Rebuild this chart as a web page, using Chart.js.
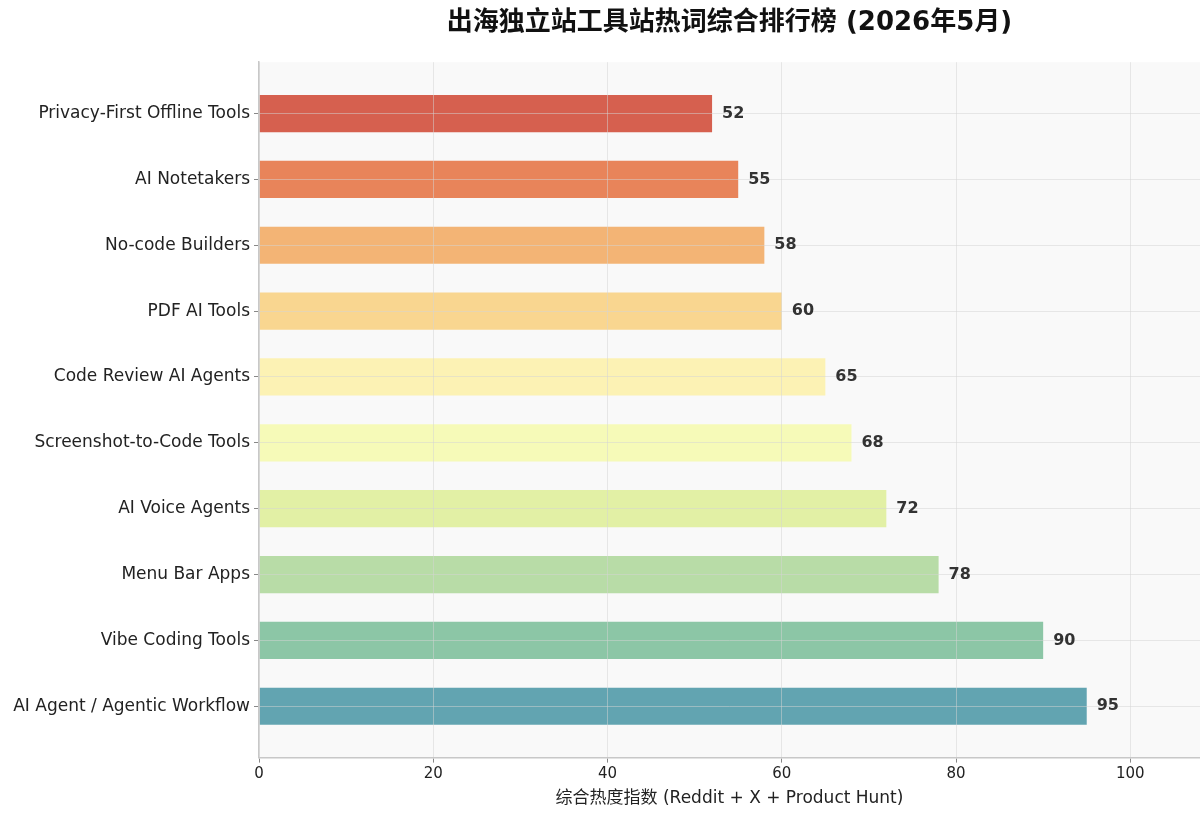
<!DOCTYPE html>
<html>
<head>
<meta charset="utf-8">
<script src="https://cdn.jsdelivr.net/npm/chart.js@4.4.1/dist/chart.umd.min.js"></script>
<style>
  html, body { margin: 0; padding: 0; background: #ffffff; }
  #wrap { width: 1200px; height: 821px; }
</style>
</head>
<body>
<div id="wrap"><canvas id="rankChart" width="1200" height="821"></canvas></div>
<script>
// 热词 + 综合热度指数 (从上到下)
const categories = [
    'Privacy-First Offline Tools',
    'AI Notetakers',
    'No-code Builders',
    'PDF AI Tools',
    'Code Review AI Agents',
    'Screenshot-to-Code Tools',
    'AI Voice Agents',
    'Menu Bar Apps',
    'Vibe Coding Tools',
    'AI Agent / Agentic Workflow'
];
const scores = [52, 55, 58, 60, 65, 68, 72, 78, 90, 95];
const xTicks = [0, 20, 40, 60, 80, 100];

const barColors = [
    '#d6604f', '#e8845a', '#f3b475', '#f9d690', '#fcf2b4',
    '#f6fab8', '#e2f0a5', '#b8dca7', '#8cc6a6', '#62a4b1'
];

const FONT = '"DejaVu Sans", "Noto Sans CJK SC", sans-serif';

// 绘图区背景
const plotBg = {
    id: 'plotBg',
    beforeDraw(chart) {
        const {ctx, chartArea: a} = chart;
        ctx.save();
        ctx.fillStyle = '#f9f9f9';
        ctx.fillRect(a.left, a.top, a.right - a.left, a.bottom - a.top);
        ctx.restore();
    }
};

// 柱子右侧的数值
const valueLabels = {
    id: 'valueLabels',
    afterDraw(chart) {
        const ctx = chart.ctx;
        const meta = chart.getDatasetMeta(0);
        ctx.save();
        ctx.font = 'bold 16px ' + FONT;
        ctx.fillStyle = '#333333';
        ctx.textAlign = 'left';
        ctx.textBaseline = 'middle';
        meta.data.forEach((bar, i) => {
            ctx.fillText(String(scores[i]), bar.x + 10, bar.y);
        });
        ctx.restore();
    }
};

document.addEventListener('DOMContentLoaded', () => {
    const ctx = document.getElementById('rankChart').getContext('2d');

    new Chart(ctx, {
        type: 'bar',
        data: {
            datasets: [{
                label: '综合热度指数',
                data: scores.map((v, i) => ({x: v, y: i})),
                backgroundColor: barColors,
                borderWidth: 0,
                categoryPercentage: 1.0,
                barPercentage: 0.565
            }]
        },
        options: {
            indexAxis: 'y',
            responsive: false,
            animation: false,
            devicePixelRatio: 1,
            layout: { padding: { left: 0, right: 0, top: 0, bottom: 12 } },
            plugins: {
                legend: { display: false },
                tooltip: { enabled: false },
                title: {
                    display: true,
                    text: '出海独立站工具站热词综合排行榜 (2026年5月)',
                    fullSize: false,
                    color: '#111111',
                    font: { family: FONT, size: 26, weight: 'bold' },
                    padding: { top: 8, bottom: 23 }
                }
            },
            scales: {
                x: {
                    type: 'linear',
                    min: 0,
                    max: 108,
                    offset: false,
                    afterBuildTicks(scale) {
                        scale.ticks = xTicks.map(v => ({value: v}));
                    },
                    grid: {
                        z: 1,
                        offset: false,
                        color: 'rgba(212,212,212,0.5)',
                        lineWidth: 1,
                        tickLength: 5,
                        tickColor: '#888888'
                    },
                    border: { display: true, color: '#c8c8c8', width: 1.5, z: 2 },
                    ticks: {
                        color: '#222222',
                        font: { family: FONT, size: 15 },
                        padding: 3
                    },
                    title: {
                        display: true,
                        text: '综合热度指数 (Reddit + X + Product Hunt)',
                        color: '#222222',
                        font: { family: FONT, size: 17 },
                        padding: { top: 2, bottom: 0 }
                    }
                },
                y: {
                    type: 'linear',
                    reverse: true,
                    min: -0.78,
                    max: 9.78,
                    offset: false,
                    afterBuildTicks(scale) {
                        scale.ticks = categories.map((c, i) => ({value: i}));
                    },
                    afterFit(scale) {
                        scale.width = 259;
                    },
                    grid: {
                        z: 1,
                        offset: false,
                        color: 'rgba(212,212,212,0.5)',
                        lineWidth: 1,
                        tickLength: 5,
                        tickColor: '#888888'
                    },
                    border: { display: true, color: '#c8c8c8', width: 1.5, z: 2 },
                    ticks: {
                        color: '#222222',
                        font: { family: FONT, size: 17 },
                        padding: 4,
                        callback: (v) => categories[v]
                    }
                }
            }
        },
        plugins: [plotBg, valueLabels]
    });
});
</script>
</body>
</html>
